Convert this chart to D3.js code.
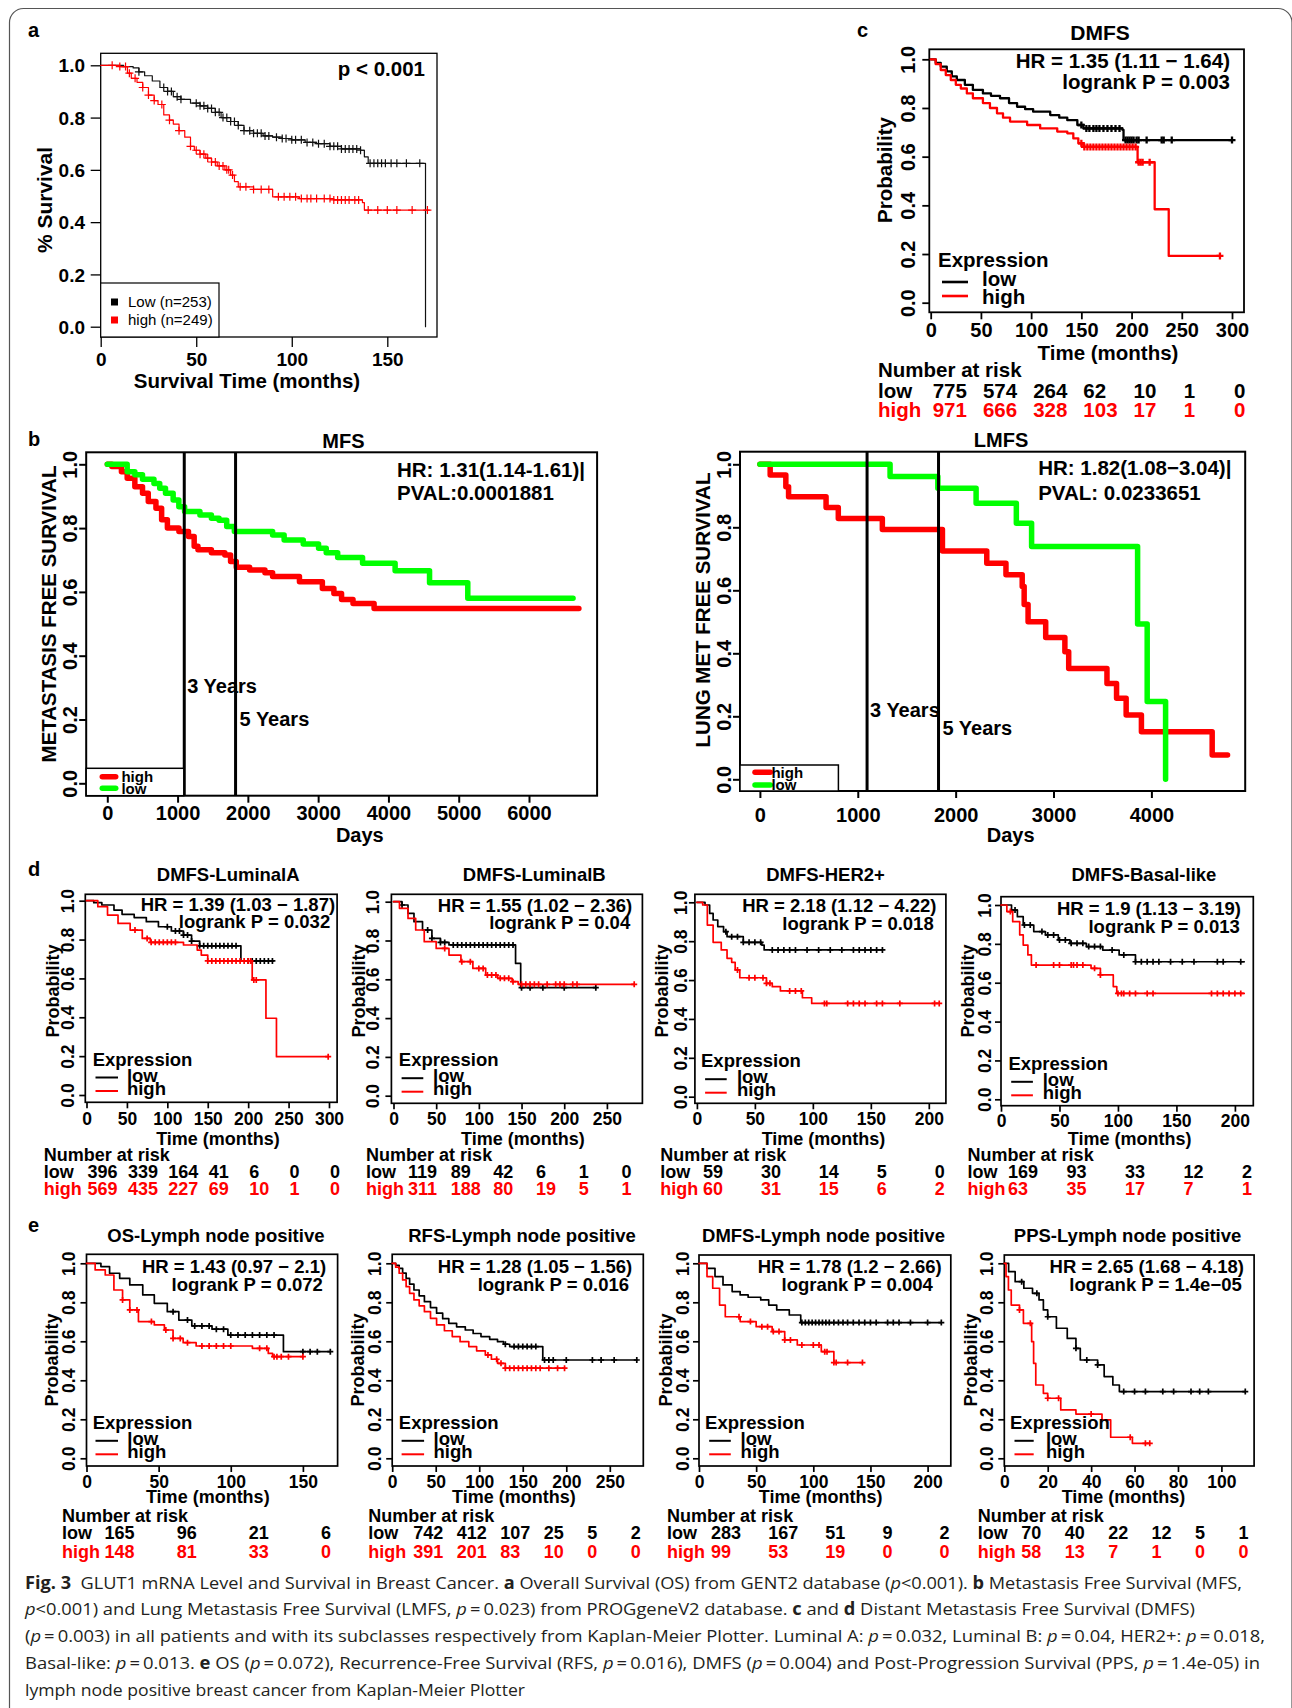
<!DOCTYPE html>
<html>
<head>
<meta charset="utf-8">
<script src="https://cdn.jsdelivr.net/npm/d3@7"></script>
<style>
  html, body { margin: 0; padding: 0; background: #fff; }
  svg { display: block; }
</style>
</head>
<body>
<div id="fig"></div>
<script>
const FONT = "Arial, 'Liberation Sans', Helvetica, sans-serif";
const CAP_FONT = "'Open Sans', 'Noto Sans', sans-serif";
const RED = '#ff0000', GREEN = '#00ff00', BLACK = '#000';

const probTicks = [0, 0.2, 0.4, 0.6, 0.8, 1.0];

// ---------- a : GENT2 overall survival ----------
const aTicksX = [0, 50, 100, 150];
const aLowSteps = [[0,1],[12,0.995],[17,0.99],[20,0.975],[23,0.96],[27,0.94],[31,0.915],[35,0.9],[38,0.88],[42,0.87],[47,0.855],[52,0.845],[56,0.835],[60,0.82],[63,0.8],[68,0.785],[72,0.77],[75,0.75],[80,0.74],[85,0.73],[90,0.725],[95,0.72],[100,0.715],[107,0.705],[113,0.7],[120,0.69],[126,0.68],[136,0.675],[138,0.65],[140,0.625],[170,0.625],[170,0]];
const aHighSteps = [[0,1],[10,0.995],[14,0.97],[16,0.95],[19,0.935],[22,0.915],[25,0.886],[28,0.865],[30,0.85],[33,0.81],[36,0.79],[38,0.775],[41,0.75],[44,0.725],[47,0.69],[49,0.675],[52,0.66],[55,0.645],[58,0.63],[61,0.615],[65,0.6],[68,0.58],[70,0.555],[72,0.535],[80,0.525],[90,0.497],[104,0.49],[122,0.485],[137,0.475],[138,0.446],[172,0.446]];
const aLowCens = [20,33,35,37,40,42,50,52,54,56,58,60,62,64,66,68,70,72,75,78,80,82,84,86,88,92,95,97,100,102,105,108,111,114,117,120,122,124,126,128,130,132,134,136,141,143,145,147,149,152,155,160,167];
const aHighCens = [6,10,13,15,18,22,25,28,32,36,41,47,50,52,54,56,58,60,62,64,66,67,69,73,76,80,84,88,93,96,99,102,105,108,110,113,117,120,122,124,126,128,130,133,135,140,145,150,155,163,171];

// ---------- b : PROGgeneV2 MFS / LMFS (days) ----------
const mfsTicksX = [0, 1000, 2000, 3000, 4000, 5000, 6000];
const mfsLowSteps = [[0,1],[283,0.977],[392,0.967],[501,0.953],[664,0.94],[746,0.925],[828,0.909],[937,0.888],[1018,0.867],[1100,0.852],[1318,0.841],[1481,0.831],[1590,0.825],[1699,0.805],[1808,0.789],[2352,0.778],[2516,0.763],[2788,0.75],[3006,0.737],[3115,0.723],[3278,0.708],[3632,0.69],[4095,0.666],[4585,0.629],[5129,0.58],[6627,0.58]];
const mfsHighSteps = [[0,1],[65,0.993],[201,0.977],[283,0.956],[392,0.93],[501,0.909],[583,0.883],[692,0.862],[773,0.826],[855,0.8],[1019,0.789],[1155,0.774],[1236,0.743],[1290,0.732],[1481,0.723],[1672,0.716],[1754,0.695],[1835,0.677],[2025,0.669],[2243,0.66],[2352,0.648],[2734,0.632],[3060,0.611],[3224,0.595],[3333,0.576],[3496,0.564],[3796,0.548],[6710,0.548]];
const lmfsTicksX = [0, 1000, 2000, 3000, 4000];
const lmfsLowSteps = [[0,1],[1330,0.961],[1818,0.924],[2209,0.876],[2620,0.813],[2776,0.739],[3859,0.493],[3957,0.247],[4145,0.247],[4145,0]];
const lmfsHighSteps = [[0,1],[105,0.966],[265,0.929],[293,0.897],[676,0.863],[801,0.828],[1251,0.793],[1865,0.725],[2318,0.686],[2514,0.649],[2680,0.612],[2700,0.555],[2740,0.5],[2920,0.45],[3116,0.405],[3155,0.352],[3546,0.304],[3644,0.257],[3742,0.204],[3898,0.151],[4621,0.077],[4778,0.077]];
const yearMarks = [1095, 1825];

// ---------- c : KM plotter DMFS, all patients ----------
const cTicksX = [0, 50, 100, 150, 200, 250, 300];
const cLowSteps = [[0,1],[5,0.985],[10,0.97],[16,0.95],[21,0.93],[26,0.915],[34,0.895],[42,0.874],[52,0.86],[60,0.85],[69,0.84],[78,0.82],[86,0.805],[94,0.795],[102,0.785],[119,0.771],[128,0.76],[136,0.75],[146,0.73],[152,0.716],[191,0.71],[192,0.668],[301,0.668]];
const cHighSteps = [[0,1],[5,0.98],[10,0.956],[15,0.935],[20,0.915],[25,0.895],[30,0.88],[36,0.86],[42,0.84],[52,0.82],[59,0.8],[66,0.778],[72,0.76],[79,0.744],[96,0.73],[109,0.716],[126,0.703],[136,0.696],[142,0.675],[147,0.655],[152,0.64],[205,0.64],[206,0.577],[222,0.577],[223,0.384],[236,0.384],[237,0.192],[288,0.192]];
const cLowCens = [150,155,158,162,165,168,172,176,180,184,188,194,196,198,200,202,205,207,215,230,232,240,300];
const cHighCens = [150,153,156,159,162,165,168,171,174,177,180,183,186,189,192,195,198,201,204,207,209,211,218,288];
const cRiskLow = [775, 574, 264, 62, 10, 1, 0];
const cRiskHigh = [971, 666, 328, 103, 17, 1, 0];

// ---------- d : DMFS by subtype ----------
const lumATicksX = [0, 50, 100, 150, 200, 250, 300];
const lumALow = [[0,1],[9,0.99],[19,0.978],[34,0.952],[44,0.93],[59,0.913],[74,0.892],[89,0.866],[105,0.844],[120,0.823],[130,0.792],[140,0.768],[190,0.768],[191,0.69],[231,0.69]];
const lumAHigh = [[0,1],[14,0.969],[26,0.926],[39,0.883],[54,0.849],[69,0.806],[79,0.786],[115,0.786],[120,0.772],[137,0.746],[142,0.72],[150,0.69],[203,0.69],[205,0.592],[221,0.592],[222,0.395],[234,0.395],[235,0.197],[299,0.197]];
const lumALowCens = [100,110,115,120,125,130,140,145,150,155,160,165,170,175,180,185,200,205,210,215,220,225,230];
const lumAHighCens = [60,75,80,85,90,95,100,105,110,150,155,160,165,170,175,180,185,190,195,200,203,207,210,299];
const lumARiskLow = [396, 339, 164, 41, 6, 0, 0];
const lumARiskHigh = [569, 435, 227, 69, 10, 1, 0];

const lumBTicksX = [0, 50, 100, 150, 200, 250];
const lumBLow = [[0,1],[10,0.983],[17,0.94],[24,0.897],[34,0.854],[45,0.811],[55,0.79],[65,0.777],[141,0.777],[143,0.682],[148,0.682],[149,0.557],[237,0.557]];
const lumBHigh = [[0,1],[7,0.966],[17,0.914],[26,0.854],[36,0.794],[50,0.759],[65,0.725],[79,0.691],[93,0.656],[108,0.622],[122,0.605],[139,0.588],[146,0.574],[282,0.574]];
const lumBLowCens = [10,40,45,55,60,70,75,80,85,90,95,100,105,110,115,120,125,130,135,140,150,160,175,200,237];
const lumBHighCens = [60,80,90,100,105,110,115,120,125,130,135,140,150,155,160,165,170,180,190,195,200,210,215,282];
const lumBRiskLow = [119, 89, 42, 6, 1, 0];
const lumBRiskHigh = [311, 188, 80, 19, 5, 1];

const her2TicksX = [0, 50, 100, 150, 200];
const her2Low = [[0,1],[7,0.986],[11,0.943],[14,0.909],[18,0.875],[23,0.849],[26,0.823],[40,0.794],[56,0.78],[58,0.755],[160,0.755]];
const her2High = [[0,1],[5,0.986],[9,0.883],[14,0.794],[21,0.755],[26,0.712],[30,0.691],[33,0.652],[37,0.612],[60,0.583],[65,0.566],[72,0.544],[91,0.509],[99,0.48],[209,0.48]];
const her2LowCens = [25,30,35,40,45,50,55,65,70,75,80,85,95,105,115,125,135,140,145,150,155,160];
const her2HighCens = [35,45,50,57,60,63,80,85,90,110,112,130,135,140,145,155,160,175,205,209];
const her2RiskLow = [59, 30, 14, 5, 0];
const her2RiskHigh = [60, 31, 15, 6, 2];

const basalTicksX = [0, 50, 100, 150, 200];
const basalLow = [[0,1],[9,0.974],[14,0.94],[19,0.897],[28,0.863],[38,0.846],[49,0.82],[59,0.803],[73,0.786],[87,0.768],[101,0.743],[115,0.708],[208,0.708]];
const basalHigh = [[0,1],[5,0.966],[10,0.914],[16,0.846],[19,0.794],[23,0.743],[26,0.691],[77,0.674],[85,0.64],[96,0.58],[99,0.545],[208,0.545]];
const basalLowCens = [12,20,25,35,40,45,50,55,60,65,70,75,80,85,95,105,115,120,125,130,135,145,155,165,185,190,205];
const basalHighCens = [8,30,45,50,60,62,65,70,80,85,100,103,105,110,115,125,130,180,185,190,195,200,205];
const basalRiskLow = [169, 93, 33, 12, 2];
const basalRiskHigh = [63, 35, 17, 7, 1];

// ---------- e : lymph node positive ----------
const osTicksX = [0, 50, 100, 150];
const osLow = [[0,1],[10,0.983],[16,0.949],[23,0.923],[30,0.889],[39,0.838],[47,0.795],[56,0.752],[64,0.709],[73,0.679],[87,0.662],[98,0.632],[136,0.632],[136.5,0.547],[169,0.547]];
const osHigh = [[0,1],[6,0.966],[13,0.94],[19,0.863],[25,0.812],[30,0.761],[36,0.701],[47,0.684],[54,0.658],[60,0.615],[67,0.593],[76,0.576],[112,0.576],[115,0.564],[126,0.538],[129,0.521],[150,0.521]];
const osLowCens = [60,70,75,80,85,90,95,100,105,110,115,120,125,130,150,155,160,169];
const osHighCens = [25,30,35,45,55,60,65,70,80,85,90,95,100,120,125,130,132,135,140,150];
const osRiskLow = [165, 96, 21, 6];
const osRiskHigh = [148, 81, 33, 0];

const rfsTicksX = [0, 50, 100, 150, 200, 250];
const rfsLow = [[0,1],[4,0.99],[8,0.974],[12,0.95],[16,0.923],[20,0.893],[25,0.863],[31,0.833],[37,0.803],[44,0.773],[51,0.744],[58,0.716],[65,0.692],[74,0.674],[84,0.658],[93,0.64],[102,0.624],[112,0.61],[121,0.598],[128,0.585],[135,0.573],[170,0.573],[173,0.504],[281,0.504]];
const rfsHigh = [[0,1],[4,0.98],[8,0.949],[12,0.915],[16,0.88],[20,0.846],[25,0.812],[31,0.782],[37,0.752],[44,0.718],[51,0.684],[60,0.654],[69,0.624],[78,0.598],[88,0.573],[97,0.551],[107,0.53],[114,0.508],[121,0.487],[130,0.462],[198,0.462]];
const rfsLowCens = [130,140,145,150,155,160,165,175,180,185,200,230,240,255,281];
const rfsHighCens = [110,120,125,130,135,140,145,150,155,160,165,170,180,190,198];
const rfsRiskLow = [742, 412, 107, 25, 5, 2];
const rfsRiskHigh = [391, 201, 83, 10, 0, 0];

const dmfsLnTicksX = [0, 50, 100, 150, 200];
const dmfsLnLow = [[0,1],[7,0.974],[14,0.932],[21,0.889],[29,0.855],[36,0.838],[43,0.826],[54,0.812],[61,0.786],[68,0.761],[79,0.735],[89,0.696],[212,0.696]];
const dmfsLnHigh = [[0,1],[7,0.932],[12,0.872],[18,0.786],[23,0.726],[36,0.701],[50,0.675],[64,0.65],[75,0.607],[86,0.581],[107,0.547],[118,0.491],[143,0.491]];
const dmfsLnLowCens = [90,93,96,99,102,105,108,111,114,118,122,126,130,135,140,145,150,155,165,170,175,185,200,212];
const dmfsLnHighCens = [35,45,55,60,65,70,75,80,90,100,105,110,112,118,120,130,143];
const dmfsLnRiskLow = [283, 167, 51, 9, 2];
const dmfsLnRiskHigh = [99, 53, 19, 0, 0];

const ppsTicksX = [0, 20, 40, 60, 80, 100];
const ppsLow = [[0,1],[2,0.957],[5,0.906],[9,0.872],[13,0.846],[16,0.812],[18,0.761],[20,0.726],[24,0.667],[29,0.615],[33,0.564],[35,0.504],[43,0.479],[46,0.419],[50,0.376],[53,0.342],[111,0.342]];
const ppsHigh = [[0,1],[0.8,0.932],[1.9,0.863],[3.2,0.786],[7,0.761],[8.8,0.692],[12.6,0.598],[13.5,0.487],[14.5,0.376],[18,0.333],[20,0.308],[26,0.248],[33,0.227],[45,0.197],[49,0.108],[59,0.077],[67,0.077]];
const ppsLowCens = [8,15,20,33,38,43,55,60,65,73,78,86,90,94,111];
const ppsHighCens = [7,12,20,25,40,58,65,67];
const ppsRiskLow = [70, 40, 22, 12, 5, 1];
const ppsRiskHigh = [58, 13, 7, 1, 0, 0];

// ---------- svg ----------
const svg = d3.select('#fig').append('svg')
  .attr('width', 1292).attr('height', 1708)
  .style('background', '#fff');

// outer rounded frame
svg.append('rect')
  .attr('x', 9.5).attr('y', 8.5).attr('width', 1282.5).attr('height', 1740)
  .attr('rx', 14).attr('fill', 'none').attr('stroke', '#555').attr('stroke-width', 1.2);

function txt(g, x, y, s, o = {}) {
  const t = g.append('text').attr('x', x).attr('y', y).text(s)
    .attr('font-family', o.family || FONT)
    .attr('font-size', o.size || 18)
    .attr('font-weight', o.weight || 'bold')
    .attr('fill', o.fill || BLACK)
    .attr('text-anchor', o.anchor || 'start');
  if (o.rot) t.attr('dy', '0.35em').attr('transform', `rotate(-90,${x},${y})`);
  return t;
}

function boxRect(g, b, lw) {
  g.append('rect').attr('x', b[0]).attr('y', b[1])
    .attr('width', b[2] - b[0]).attr('height', b[3] - b[1])
    .attr('fill', 'none').attr('stroke', BLACK).attr('stroke-width', lw);
}

function styleAxis(ax, fs, lw) {
  ax.attr('font-family', FONT).attr('font-size', fs).attr('font-weight', 'bold');
  ax.select('.domain').remove();
  ax.selectAll('.tick line').attr('stroke', BLACK).attr('stroke-width', lw);
  ax.selectAll('.tick text').attr('fill', BLACK);
}

// x axis along box bottom, y axis along box left
function axes(g, x, y, p) {
  const xa = g.append('g').attr('transform', `translate(0,${p.box[3]})`)
    .call(d3.axisBottom(x).tickValues(p.xTicks).tickSize(p.tickLen).tickFormat(d3.format('d')));
  styleAxis(xa, p.fs, p.lw);
  xa.selectAll('.tick text').attr('y', p.xLabBase - p.box[3]).attr('dy', null);

  const ya = g.append('g').attr('transform', `translate(${p.box[0]},0)`)
    .call(d3.axisLeft(y).tickValues(probTicks).tickSize(p.tickLen).tickFormat(d3.format('.1f')));
  styleAxis(ya, p.fs, p.lw);
  if (p.yFlat) {
    ya.selectAll('.tick text').attr('x', p.yLabX - p.box[0]).attr('dy', '0.35em');
  } else {
    ya.selectAll('.tick text').attr('x', null).attr('dy', '0.35em').attr('text-anchor', 'middle')
      .attr('transform', `translate(${p.yLabX - p.box[0]},0) rotate(-90)`);
  }
}

function drawCurve(g, x, y, steps, cens, color, w, s) {
  const line = d3.line().x(d => x(d[0])).y(d => y(d[1])).curve(d3.curveStepAfter);
  g.append('path').attr('d', line(steps)).attr('fill', 'none')
    .attr('stroke', color).attr('stroke-width', w)
    .attr('stroke-linejoin', 'round').attr('stroke-linecap', 'round');
  if (!cens) return;
  const bis = d3.bisector(d => d[0]).right;
  g.append('g').selectAll('path').data(cens).join('path')
    .attr('transform', t => `translate(${x(t)},${y(steps[Math.max(0, bis(steps, t) - 1)][1])})`)
    .attr('d', `M${-s},0H${s}M0,${-s}V${s}`)
    .attr('fill', 'none').attr('stroke', color).attr('stroke-width', w);
}

// ---------- panel a ----------
(function panelA() {
  const g = svg.append('g');
  const p = { box: [100.7, 53.3, 437, 337], xTicks: aTicksX, tickLen: 10, fs: 19, lw: 1.3,
              xLabBase: 366, yLabX: 85, yFlat: true };
  const x = d3.scaleLinear().domain([0, 150]).range([100.7, 387.3]);
  const y = d3.scaleLinear().domain([0, 1]).range([326.7, 65.3]);
  boxRect(g, p.box, 1.3);
  axes(g, x, y, p);
  drawCurve(g, x, y, aLowSteps, aLowCens, '#111', 1.2, 4);
  drawCurve(g, x, y, aHighSteps, aHighCens, RED, 1.2, 4);

  txt(svg, 28, 37, 'a', { size: 20 });
  txt(g, 425, 76, 'p < 0.001', { size: 20.5, anchor: 'end' });
  txt(g, 247, 388, 'Survival Time (months)', { size: 20.5, anchor: 'middle' });
  txt(g, 45, 200, '% Survival', { size: 21, anchor: 'middle', rot: true });

  // legend
  g.append('rect').attr('x', 100.7).attr('y', 283).attr('width', 118.3).attr('height', 54)
    .attr('fill', '#fff').attr('stroke', BLACK).attr('stroke-width', 1.2);
  const leg = [['Low (n=253)', BLACK, 302], ['high (n=249)', RED, 320]];
  leg.forEach(([s, c, yy]) => {
    g.append('rect').attr('x', 111).attr('y', yy - 3.5).attr('width', 7).attr('height', 7).attr('fill', c);
    txt(g, 128, yy + 5, s, { size: 15, weight: 'normal' });
  });
})();

// ---------- panel b ----------
function bigPanel(p) {
  const g = svg.append('g');
  const x = d3.scaleLinear().domain([0, p.xMax]).range(p.xPx);
  const y = d3.scaleLinear().domain([0, 1]).range(p.yPx);
  boxRect(g, p.box, 2);
  axes(g, x, y, Object.assign({ tickLen: 7, fs: 20, lw: 2 }, p));
  drawCurve(g, x, y, p.high, null, RED, 5.5, 0);
  drawCurve(g, x, y, p.low, null, GREEN, 5.5, 0);

  yearMarks.forEach(t => {
    g.append('line').attr('x1', x(t)).attr('x2', x(t)).attr('y1', p.box[1]).attr('y2', p.box[3])
      .attr('stroke', BLACK).attr('stroke-width', 3);
  });
  txt(g, x(yearMarks[0]) + 3, p.yr3Y, '3 Years', { size: 20 });
  txt(g, x(yearMarks[1]) + 4, p.yr5Y, '5 Years', { size: 20 });

  txt(g, p.titleX, p.titleY, p.title, { size: 20, anchor: 'middle' });
  txt(g, p.hrX, p.hrY[0], p.hr[0], { size: 20.5 });
  txt(g, p.hrX, p.hrY[1], p.hr[1], { size: 20.5 });
  txt(g, p.daysX, 841.7, 'Days', { size: 20, anchor: 'middle' });
  txt(g, p.ylabX, p.ylabY, p.ylab, { size: 20.5, anchor: 'middle', rot: true });

  // legend
  const lb = p.legBox;
  g.append('rect').attr('x', lb[0]).attr('y', lb[1]).attr('width', lb[2] - lb[0]).attr('height', lb[3] - lb[1])
    .attr('fill', '#fff').attr('stroke', BLACK).attr('stroke-width', 1.5);
  [[RED, 'high', p.legY[0], p.legY[1]], [GREEN, 'low', p.legY[2], p.legY[3]]].forEach(([c, s, ly, ty]) => {
    g.append('line').attr('x1', p.legLineX[0]).attr('x2', p.legLineX[1]).attr('y1', ly).attr('y2', ly)
      .attr('stroke', c).attr('stroke-width', 5.5).attr('stroke-linecap', 'round');
    txt(g, p.legTextX, ty, s, { size: 15 });
  });
}

txt(svg, 28, 446, 'b', { size: 20 });
bigPanel({
  box: [86.2, 452.3, 597.1, 795.7], xMax: 6000, xPx: [107.3, 529], yPx: [783.3, 464.3],
  xTicks: mfsTicksX, xLabBase: 820, yLabX: 69.8,
  low: mfsLowSteps, high: mfsHighSteps,
  title: 'MFS', titleX: 343.4, titleY: 448,
  hr: ['HR: 1.31(1.14-1.61)|', 'PVAL:0.0001881'], hrX: 397, hrY: [476.7, 500],
  daysX: 359.8, ylab: 'METASTASIS FREE SURVIVAL', ylabX: 48.7, ylabY: 614,
  yr3Y: 693.3, yr5Y: 726,
  legBox: [86.2, 768.3, 183.8, 795.7], legLineX: [102.3, 115.7], legTextX: 121.4, legY: [776.7, 782, 788.3, 793.5]
});
bigPanel({
  box: [740, 451.7, 1245.2, 791], xMax: 4000, xPx: [759.9, 1151.4], yPx: [779.3, 464.3],
  xTicks: lmfsTicksX, xLabBase: 821.7, yLabX: 724.3,
  low: lmfsLowSteps, high: lmfsHighSteps,
  title: 'LMFS', titleX: 1001, titleY: 447,
  hr: ['HR: 1.82(1.08\u22123.04)|', 'PVAL: 0.0233651'], hrX: 1038.2, hrY: [475, 500],
  daysX: 1010.6, ylab: 'LUNG MET FREE SURVIVAL', ylabX: 702.5, ylabY: 610,
  yr3Y: 716.7, yr5Y: 735,
  legBox: [740, 765, 838.4, 791], legLineX: [755, 770.3], legTextX: 771.4, legY: [772.3, 777.5, 785, 790]
});

// ---------- KM plotter panels (c, d, e) ----------
function kmPanel(p) {
  const g = svg.append('g');
  const x = d3.scaleLinear().domain([0, p.xMax]).range(p.xPx);
  const y = d3.scaleLinear().domain([0, 1]).range(p.yPx);
  boxRect(g, p.box, p.lw);
  axes(g, x, y, p);
  drawCurve(g, x, y, p.low, p.lowCens, BLACK, p.curveW, p.censS);
  drawCurve(g, x, y, p.high, p.highCens, RED, p.curveW, p.censS);

  txt(g, p.titleX, p.titleY, p.title, { size: p.titleFs, anchor: 'middle' });
  txt(g, p.hrX, p.hrY, p.stats[0], { size: p.statFs, anchor: 'end' });
  txt(g, p.lrX, p.lrY, p.stats[1], { size: p.statFs, anchor: 'end' });

  // legend
  const L = p.legY;
  txt(g, p.legX, L[0], 'Expression', { size: p.statFs });
  txt(g, p.legTextX, L[1], 'low', { size: p.statFs });
  txt(g, p.legTextX, L[2], 'high', { size: p.statFs });
  [[BLACK, L[3]], [RED, L[4]]].forEach(([c, ly]) => {
    g.append('line').attr('x1', p.legLineX[0]).attr('x2', p.legLineX[1]).attr('y1', ly).attr('y2', ly)
      .attr('stroke', c).attr('stroke-width', p.curveW + 0.3);
  });

  txt(g, p.timeX, p.timeY, 'Time (months)', { size: p.labFs, anchor: 'middle' });
  txt(g, p.probX, p.probY, 'Probability', { size: p.labFs, anchor: 'middle', rot: true });

  // number at risk
  const R = p.riskY;
  txt(g, p.riskX, R[0], 'Number at risk', { size: p.labFs });
  txt(g, p.riskX, R[1], 'low', { size: p.labFs });
  txt(g, p.riskX, R[2], 'high', { size: p.labFs, fill: RED });
  p.xTicks.forEach((t, i) => {
    if (i >= p.riskLow.length) return;
    txt(g, x(t) + p.riskOff, R[1], p.riskLow[i], { size: p.labFs });
    txt(g, x(t) + p.riskOff, R[2], p.riskHigh[i], { size: p.labFs, fill: RED });
  });
}

// c
txt(svg, 857, 37, 'c', { size: 20 });
kmPanel({
  box: [929.3, 49.3, 1244, 312.3], xMax: 300, xPx: [930.7, 1232], yPx: [302.7, 59.3],
  xTicks: cTicksX, tickLen: 7, fs: 20, lw: 1.8, xLabBase: 337, yLabX: 908,
  low: cLowSteps, high: cHighSteps, lowCens: cLowCens, highCens: cHighCens, curveW: 2.3, censS: 3.5,
  title: 'DMFS', titleX: 1100, titleY: 40, titleFs: 21,
  stats: ['HR = 1.35 (1.11 \u2212 1.64)', 'logrank P = 0.003'], hrX: 1230, lrX: 1230, hrY: 68, lrY: 89, statFs: 20.5,
  legX: 938, legTextX: 982, legLineX: [942, 968], legY: [267, 286, 304, 282, 296],
  timeX: 1108, timeY: 360, probX: 885, probY: 170, labFs: 20.5,
  riskX: 878, riskOff: 2, riskY: [377, 398, 417], riskLow: cRiskLow, riskHigh: cRiskHigh
});

// small panel shared settings
const dRow = { titleY: 881, xLabBase: 1125, timeY: 1145, probY: 991, riskY: [1161, 1177.7, 1195] };
const eRow = { titleY: 1241.7, xLabBase: 1488, timeY: 1503, probY: 1360, riskY: [1521.7, 1539.3, 1558.3] };

function small(row, o) {
  const y0 = o.yPx[0], y1 = o.yPx[1];
  return Object.assign({
    tickLen: 6, fs: 17.5, lw: 1.7, curveW: 1.7, censS: 3,
    titleFs: 18.5, statFs: 18.5, labFs: 18,
    titleY: row.titleY, xLabBase: row.xLabBase, timeY: row.timeY, probY: row.probY, riskY: row.riskY,
    hrY: y1 + 10, lrY: y1 + 27.5,
    legY: [y0 - 29.5, y0 - 13.5, y0 - 0.5, y0 - 17.5, y0 - 4]
  }, o);
}

txt(svg, 28, 876, 'd', { size: 20 });
kmPanel(small(dRow, {
  box: [85.3, 894.3, 337.1, 1102.3], xMax: 300, xPx: [86.5, 329], yPx: [1095, 900.7],
  xTicks: lumATicksX, yLabX: 68.2,
  low: lumALow, high: lumAHigh, lowCens: lumALowCens, highCens: lumAHighCens,
  title: 'DMFS-LuminalA', titleX: 228.2,
  stats: ['HR = 1.39 (1.03 \u2212 1.87)', 'logrank P = 0.032'], hrX: 335.1, lrX: 330.2,
  legX: 92.7, legTextX: 126.9, legLineX: [95.5, 118],
  timeX: 218, probX: 52.7,
  riskX: 43.7, riskOff: 1, riskLow: lumARiskLow, riskHigh: lumARiskHigh
}));
kmPanel(small(dRow, {
  box: [391.4, 894.3, 642.4, 1103.3], xMax: 250, xPx: [393.5, 606.9], yPx: [1095.7, 901.7],
  xTicks: lumBTicksX, yLabX: 373,
  low: lumBLow, high: lumBHigh, lowCens: lumBLowCens, highCens: lumBHighCens,
  title: 'DMFS-LuminalB', titleX: 534.3,
  stats: ['HR = 1.55 (1.02 \u2212 2.36)', 'logrank P = 0.04'], hrX: 632.2, lrX: 630.2,
  legX: 398.8, legTextX: 433, legLineX: [401.6, 423.3],
  timeX: 522.9, probX: 358.8,
  riskX: 366.1, riskOff: 14.5, riskLow: lumBRiskLow, riskHigh: lumBRiskHigh
}));
kmPanel(small(dRow, {
  box: [694.9, 894.3, 945.9, 1103.3], xMax: 200, xPx: [696.9, 928.8], yPx: [1096.7, 902.3],
  xTicks: her2TicksX, yLabX: 680.6,
  low: her2Low, high: her2High, lowCens: her2LowCens, highCens: her2HighCens,
  title: 'DMFS-HER2+', titleX: 825.5,
  stats: ['HR = 2.18 (1.12 \u2212 4.22)', 'logrank P = 0.018'], hrX: 936.5, lrX: 933.7,
  legX: 701, legTextX: 736.9, legLineX: [705.1, 726.7],
  timeX: 823.5, probX: 662.2,
  riskX: 660.2, riskOff: 6, riskLow: her2RiskLow, riskHigh: her2RiskHigh
}));
kmPanel(small(dRow, {
  box: [1001, 896.7, 1253.3, 1105.7], xMax: 200, xPx: [1001, 1234.9], yPx: [1099.3, 905],
  xTicks: basalTicksX, yLabX: 984.7, xLabBase: 1127,
  low: basalLow, high: basalHigh, lowCens: basalLowCens, highCens: basalHighCens,
  title: 'DMFS-Basal-like', titleX: 1143.9,
  stats: ['HR = 1.9 (1.13 \u2212 3.19)', 'logrank P = 0.013'], hrX: 1241, lrX: 1239.8,
  legX: 1008.4, legTextX: 1042.7, legLineX: [1011.2, 1032.9],
  timeX: 1129.6, probX: 967.6,
  riskX: 967.6, riskOff: 7, riskLow: basalRiskLow, riskHigh: basalRiskHigh
}));

txt(svg, 28, 1232, 'e', { size: 20 });
kmPanel(small(eRow, {
  box: [86.5, 1254.3, 337.6, 1466], xMax: 150, xPx: [86.5, 302.9], yPx: [1458.3, 1263.3],
  xTicks: osTicksX, yLabX: 69,
  low: osLow, high: osHigh, lowCens: osLowCens, highCens: osHighCens,
  title: 'OS-Lymph node positive', titleX: 215.9,
  stats: ['HR = 1.43 (0.97 \u2212 2.1)', 'logrank P = 0.072'], hrX: 326.1, lrX: 322.9,
  legX: 92.7, legTextX: 127.3, legLineX: [95.5, 118],
  timeX: 207.8, probX: 51.8,
  riskX: 62, riskOff: 18, riskLow: osRiskLow, riskHigh: osRiskHigh
}));
kmPanel(small(eRow, {
  box: [392.2, 1254.3, 643.3, 1466], xMax: 250, xPx: [392.2, 609.8], yPx: [1458.3, 1263.3],
  xTicks: rfsTicksX, yLabX: 375.1,
  low: rfsLow, high: rfsHigh, lowCens: rfsLowCens, highCens: rfsHighCens,
  title: 'RFS-Lymph node positive', titleX: 522,
  stats: ['HR = 1.28 (1.05 \u2212 1.56)', 'logrank P = 0.016'], hrX: 632.2, lrX: 629,
  legX: 398.8, legTextX: 433.5, legLineX: [401.6, 424.1],
  timeX: 513.9, probX: 358,
  riskX: 368.2, riskOff: 21, riskLow: rfsRiskLow, riskHigh: rfsRiskHigh
}));
kmPanel(small(eRow, {
  box: [699, 1255, 950.8, 1466], xMax: 200, xPx: [699, 927.6], yPx: [1458.3, 1263.3],
  xTicks: dmfsLnTicksX, yLabX: 682.7,
  low: dmfsLnLow, high: dmfsLnHigh, lowCens: dmfsLnLowCens, highCens: dmfsLnHighCens,
  title: 'DMFS-Lymph node positive', titleX: 823.5,
  stats: ['HR = 1.78 (1.2 \u2212 2.66)', 'logrank P = 0.004'], hrX: 941.8, lrX: 932.9,
  legX: 705.1, legTextX: 740.6, legLineX: [709.2, 730.8],
  timeX: 820.6, probX: 665.5,
  riskX: 667.1, riskOff: 12, riskLow: dmfsLnRiskLow, riskHigh: dmfsLnRiskHigh
}));
kmPanel(small(eRow, {
  box: [1004.3, 1255, 1254.1, 1466], xMax: 100, xPx: [1004.3, 1221.4], yPx: [1458.3, 1263.3],
  xTicks: ppsTicksX, yLabX: 986.7,
  low: ppsLow, high: ppsHigh, lowCens: ppsLowCens, highCens: ppsHighCens,
  title: 'PPS-Lymph node positive', titleX: 1127.6,
  stats: ['HR = 2.65 (1.68 \u2212 4.18)', 'logrank P = 1.4e\u221205'], hrX: 1243.9, lrX: 1241.8,
  legX: 1010, legTextX: 1045.9, legLineX: [1014.5, 1033.7],
  timeX: 1123.5, probX: 970.4,
  riskX: 977.8, riskOff: 17, riskLow: ppsRiskLow, riskHigh: ppsRiskHigh
}));

// ---------- caption ----------
const EQ = '\u2009=\u2009';
const capLines = [
  { y: 1589, w: 1217, segs: [['Fig. 3', 'b'], ['  GLUT1 mRNA Level and Survival in Breast Cancer. ', ''], ['a', 'b'], [' Overall Survival (OS) from GENT2 database (', ''], ['p', 'i'], ['<0.001). ', ''], ['b', 'b'], [' Metastasis Free Survival (MFS,', '']] },
  { y: 1615, w: 1170, segs: [['p', 'i'], ['<0.001) and Lung Metastasis Free Survival (LMFS, ', ''], ['p', 'i'], [EQ + '0.023) from PROGgeneV2 database. ', ''], ['c', 'b'], [' and ', ''], ['d', 'b'], [' Distant Metastasis Free Survival (DMFS)', '']] },
  { y: 1642, w: 1240, segs: [['(', ''], ['p', 'i'], [EQ + '0.003) in all patients and with its subclasses respectively from Kaplan-Meier Plotter. Luminal A: ', ''], ['p', 'i'], [EQ + '0.032, Luminal B: ', ''], ['p', 'i'], [EQ + '0.04, HER2+: ', ''], ['p', 'i'], [EQ + '0.018,', '']] },
  { y: 1669, w: 1235, segs: [['Basal-like: ', ''], ['p', 'i'], [EQ + '0.013. ', ''], ['e', 'b'], [' OS (', ''], ['p', 'i'], [EQ + '0.072), Recurrence-Free Survival (RFS, ', ''], ['p', 'i'], [EQ + '0.016), DMFS (', ''], ['p', 'i'], [EQ + '0.004) and Post-Progression Survival (PPS, ', ''], ['p', 'i'], [EQ + '1.4e-05) in', '']] },
  { y: 1696, w: 500, segs: [['lymph node positive breast cancer from Kaplan-Meier Plotter', '']] }
];
capLines.forEach(l => {
  const t = svg.append('text').attr('x', 25).attr('y', l.y)
    .attr('font-family', CAP_FONT).attr('font-size', 17).attr('fill', '#231f20')
    .attr('textLength', l.w).attr('lengthAdjust', 'spacingAndGlyphs')
    .attr('xml:space', 'preserve');
  l.segs.forEach(([s, st]) => {
    const ts = t.append('tspan').text(s);
    if (st === 'b') ts.attr('font-weight', 'bold');
    if (st === 'i') ts.attr('font-style', 'italic');
  });
});
</script>
</body>
</html>
